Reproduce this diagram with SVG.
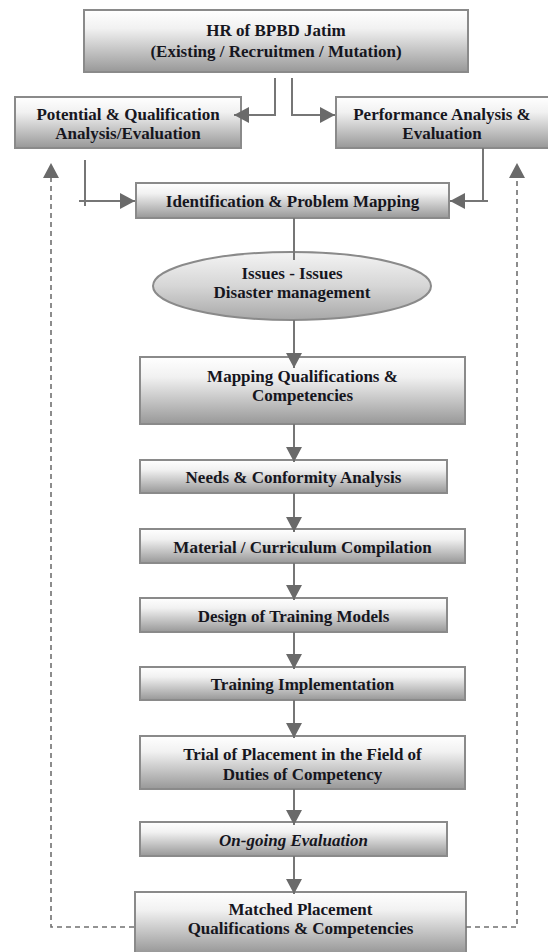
<svg xmlns="http://www.w3.org/2000/svg" width="548" height="952" viewBox="0 0 548 952">
  <defs>
    <linearGradient id="boxFill" x1="0" y1="0" x2="0" y2="1">
      <stop offset="0" stop-color="#ffffff"/>
      <stop offset="0.3" stop-color="#f1f1f1"/>
      <stop offset="1" stop-color="#989898"/>
    </linearGradient>
    <linearGradient id="ovalFill" x1="0" y1="0" x2="0" y2="1">
      <stop offset="0" stop-color="#f4f4f4"/>
      <stop offset="0.5" stop-color="#d6d6d6"/>
      <stop offset="1" stop-color="#a8a8a8"/>
    </linearGradient>
    <marker id="arrow" viewBox="0 0 15 16" refX="15" refY="8" markerWidth="15" markerHeight="16" markerUnits="userSpaceOnUse" orient="auto">
      <path d="M0,0 L15,8 L0,16 Z" fill="#6a6a6a"/>
    </marker>
  </defs>
  <style>
    .box { fill: url(#boxFill); stroke: #8a8a8a; stroke-width: 2; }
    .oval { fill: url(#ovalFill); stroke: #8a8a8a; stroke-width: 2; }
    .label { font-weight: bold; font-size: 17px; fill: #16161e; text-anchor: middle; }
    .italic { font-style: italic; }
    .link { fill: none; stroke: #767676; stroke-width: 2; }
    .flow { fill: none; stroke: #767676; stroke-width: 2; marker-end: url(#arrow); }
    .loop { fill: none; stroke: #707070; stroke-width: 1.6; stroke-dasharray: 5 4; }
    .loopHead { fill: #6a6a6a; }
  </style>

  <rect width="548" height="952" fill="#ffffff"/>

  <g id="nodes" font-family="'Liberation Serif', 'Times New Roman', 'DejaVu Serif', serif">
    <g id="hr-bpbd">
      <rect class="box" x="84" y="10" width="384" height="62"/>
      <text class="label" x="276" y="36">HR of BPBD Jatim</text>
      <text class="label" x="276" y="57">(Existing / Recruitmen / Mutation)</text>
    </g>

    <g id="potential-qualification">
      <rect class="box" x="15" y="97" width="226" height="51"/>
      <text class="label" x="128" y="120">Potential &amp; Qualification</text>
      <text class="label" x="128" y="139">Analysis/Evaluation</text>
    </g>

    <g id="performance-analysis">
      <rect class="box" x="336" y="97" width="215" height="51"/>
      <text class="label" x="442" y="120">Performance Analysis &amp;</text>
      <text class="label" x="442" y="139">Evaluation</text>
    </g>

    <g id="problem-mapping">
      <rect class="box" x="136" y="183" width="313" height="35"/>
      <text class="label" x="292.5" y="207">Identification &amp; Problem Mapping</text>
    </g>

    <g id="issues">
      <ellipse class="oval" cx="292" cy="286" rx="139" ry="34"/>
      <text class="label" x="292" y="279">Issues - Issues</text>
      <text class="label" x="292" y="298">Disaster management</text>
    </g>

    <g id="mapping-qualifications">
      <rect class="box" x="140" y="357" width="325" height="67"/>
      <text class="label" x="302.5" y="382">Mapping Qualifications &amp;</text>
      <text class="label" x="302.5" y="401">Competencies</text>
    </g>

    <g id="needs-analysis">
      <rect class="box" x="140" y="460" width="307" height="33"/>
      <text class="label" x="293.5" y="483">Needs &amp; Conformity Analysis</text>
    </g>

    <g id="curriculum-compilation">
      <rect class="box" x="140" y="529" width="325" height="34"/>
      <text class="label" x="302.5" y="553">Material / Curriculum Compilation</text>
    </g>

    <g id="training-design">
      <rect class="box" x="140" y="598" width="307" height="34"/>
      <text class="label" x="293.5" y="622">Design of Training Models</text>
    </g>

    <g id="training-implementation">
      <rect class="box" x="140" y="667" width="325" height="33"/>
      <text class="label" x="302.5" y="690">Training Implementation</text>
    </g>

    <g id="trial-placement">
      <rect class="box" x="140" y="736" width="325" height="53"/>
      <text class="label" x="302.5" y="760">Trial of Placement in the Field of</text>
      <text class="label" x="302.5" y="780">Duties of Competency</text>
    </g>

    <g id="ongoing-evaluation">
      <rect class="box" x="140" y="822" width="307" height="34"/>
      <text class="label italic" x="293.5" y="846">On-going Evaluation</text>
    </g>

    <g id="matched-placement">
      <rect class="box" x="135" y="892" width="331" height="61"/>
      <text class="label" x="300.5" y="915">Matched Placement</text>
      <text class="label" x="300.5" y="934">Qualifications &amp; Competencies</text>
    </g>
  </g>

  <!-- connectors, drawn over the box edges -->
  <g id="connectors">
    <!-- HR split to the two analysis boxes -->
    <path class="flow" d="M275,78 V115 H234"/>
    <path class="flow" d="M292,78 V115 H335"/>
    <!-- analysis boxes into problem mapping -->
    <path class="link" d="M85,160 V206"/>
    <path class="flow" d="M79,201 H135"/>
    <path class="link" d="M483,148 V201"/>
    <path class="flow" d="M488,201 H450"/>
    <!-- main column -->
    <path class="link" d="M294,218 V260"/>
    <path class="flow" d="M294,320 V368"/>
    <path class="flow" d="M294,424 V462"/>
    <path class="flow" d="M294,493 V532"/>
    <path class="flow" d="M294,563 V600"/>
    <path class="flow" d="M294,632 V669"/>
    <path class="flow" d="M294,700 V738"/>
    <path class="flow" d="M294,789 V825"/>
    <path class="flow" d="M294,856 V894"/>
    <!-- dashed feedback loops back to the analysis stage -->
    <path class="loop" d="M134,927 H51 V178"/>
    <path class="loopHead" d="M43,178 L51,163 L59,178 Z"/>
    <path class="loop" d="M466,927 H517 V178"/>
    <path class="loopHead" d="M509,178 L517,163 L525,178 Z"/>
  </g>
</svg>
